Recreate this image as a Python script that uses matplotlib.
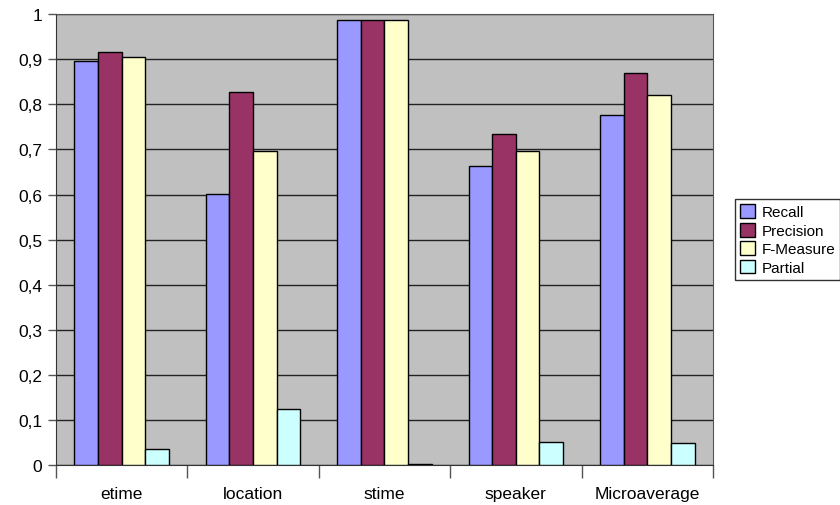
import numpy as np
import matplotlib.pyplot as plt
from matplotlib.ticker import FuncFormatter, MultipleLocator, FixedLocator

plt.rcParams['font.family'] = ['Liberation Sans', 'DejaVu Sans']

categories = ['etime', 'location', 'stime', 'speaker', 'Microaverage']
recall = [0.896, 0.601, 0.987, 0.663, 0.777]
precision = [0.916, 0.827, 0.987, 0.734, 0.869]
f_measure = [0.905, 0.696, 0.987, 0.697, 0.820]
partial = [0.035, 0.124, 0.002, 0.051, 0.049]

series = [('Recall', recall, '#9999FF'),
          ('Precision', precision, '#993366'),
          ('F-Measure', f_measure, '#FFFFCC'),
          ('Partial', partial, '#CCFFFF')]

fig = plt.figure(figsize=(8.4, 5.06), dpi=100)
ax = fig.add_axes([0.0667, 0.079, 0.782, 0.891])
ax.set_facecolor('#C0C0C0')

x = np.arange(len(categories))
width = 0.18
for i, (name, vals, color) in enumerate(series):
    ax.bar(x + (i - 1.5) * width, vals, width, color=color,
           edgecolor='black', linewidth=1.0, label=name, zorder=3)

ax.set_xlim(-0.5, len(categories) - 0.5)
ax.set_ylim(0, 1)
ax.yaxis.set_major_locator(MultipleLocator(0.1))
ax.yaxis.set_major_formatter(FuncFormatter(
    lambda v, _: '0' if abs(v) < 1e-9 else ('1' if abs(v - 1) < 1e-9 else f'{v:.1f}'.replace('.', ','))))
ax.grid(True, axis='y', color='#222222', linewidth=1.0, zorder=1)

# category labels centred, ticks on the group boundaries
ax.set_xticks(x)
ax.set_xticklabels(categories)
ax.tick_params(axis='x', which='major', length=0, pad=15, labelsize=12.5)
ax.xaxis.set_minor_locator(FixedLocator(np.arange(-0.5, len(categories), 1.0)))
ax.tick_params(axis='x', which='minor', length=9, width=1, color='#555555')
ax.tick_params(axis='y', length=6, width=1, color='#555555', labelsize=12.5, pad=4)

for side in ['top', 'right']:
    ax.spines[side].set_color('#555555')
for side in ['left', 'bottom']:
    ax.spines[side].set_color('#333333')

leg = ax.legend(loc='center left', bbox_to_anchor=(1.033, 0.5), frameon=True,
                fancybox=False, edgecolor='black', fontsize=11,
                handlelength=1.0, handleheight=1.0, handletextpad=0.4,
                labelspacing=0.22, borderpad=0.35, borderaxespad=0)
leg.get_frame().set_linewidth(1.0)

fig.savefig('out.png', dpi=100)
